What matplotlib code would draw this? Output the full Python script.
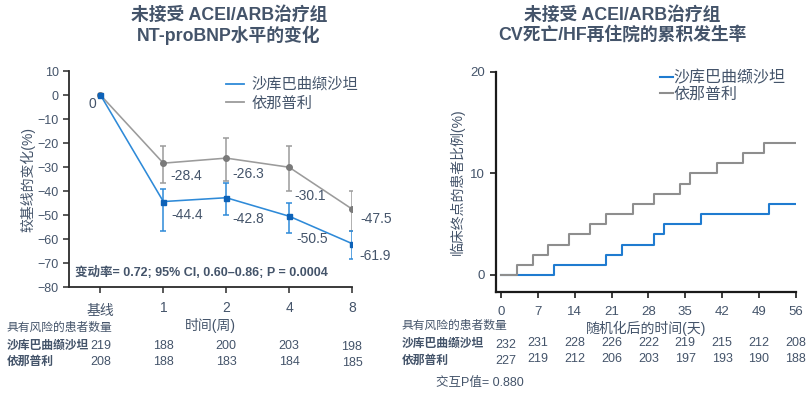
import matplotlib
matplotlib.use("Agg")
import matplotlib.pyplot as plt
import matplotlib.transforms as mtransforms
from matplotlib.lines import Line2D

plt.rcParams['font.family'] = ['Liberation Sans', 'Noto Sans CJK SC', 'DejaVu Sans']
plt.rcParams['axes.unicode_minus'] = True

# ---------------- data: left chart ----------------
weeks = ['基线', '1', '2', '4', '8']
sac_change = [0, -44.4, -42.8, -50.5, -61.9]
sac_lo = [0, -56.6, -50.0, -57.5, -68.3]
sac_hi = [0, -39.3, -36.5, -45.1, -56.8]
enal_change = [0, -28.4, -26.3, -30.1, -47.5]
enal_lo = [0, -36.5, -35.9, -40.0, -56.6]
enal_hi = [0, -21.4, -17.9, -21.4, -40.0]
sac_labels = ['-44.4', '-42.8', '-50.5', '-61.9']
enal_labels = ['-28.4', '-26.3', '-30.1', '-47.5']
left_risk_sac = [219, 188, 200, 203, 198]
left_risk_enal = [208, 188, 183, 184, 185]
stat_text = '变动率= 0.72; 95% CI, 0.60–0.86; P = 0.0004'

# ---------------- data: right chart ----------------
sac_days = [0, 10, 20, 23, 29, 31, 38, 51, 56]
sac_pct = [0, 1, 2, 3, 4, 5, 6, 7, 7]
enal_days = [0, 3, 6, 9, 13, 17, 20, 25, 29, 34, 36, 41, 46, 50, 56]
enal_pct = [0, 1, 2, 3, 4, 5, 6, 7, 8, 9, 10, 11, 12, 13, 13]
day_ticks = [0, 7, 14, 21, 28, 35, 42, 49, 56]
right_risk_sac = [232, 231, 228, 226, 222, 219, 215, 212, 208]
right_risk_enal = [227, 219, 212, 206, 203, 197, 193, 190, 188]
p_text = '交互P值= 0.880'

name_sac = '沙库巴曲缬沙坦'
name_enal = '依那普利'

# ---------------- style ----------------
TXT = '#44546a'
BLUE = '#2e8ad8'
BLUE_M = '#0d62b8'
GRAY = '#9b9b9b'
GRAY_M = '#7a7a7a'
SPINE = '#2b2b2b'

W, H = 811, 397
fig = plt.figure(figsize=(W / 100, H / 100), dpi=100)

def fx(px):
    return px / W

def fy(py):
    return 1 - py / H

# ---------- left axes ----------
ax1 = fig.add_axes([fx(69), fy(287), fx(352) - fx(69), fy(71) - fy(287)])
xs = list(range(len(weeks)))
ax1.errorbar(xs[1:], enal_change[1:],
             yerr=[[c - l for c, l in zip(enal_change[1:], enal_lo[1:])],
                   [h - c for c, h in zip(enal_change[1:], enal_hi[1:])]],
             fmt='none', ecolor=GRAY, elinewidth=1.1, capsize=2.5, capthick=1.1, zorder=2)
ax1.errorbar(xs[1:], sac_change[1:],
             yerr=[[c - l for c, l in zip(sac_change[1:], sac_lo[1:])],
                   [h - c for c, h in zip(sac_change[1:], sac_hi[1:])]],
             fmt='none', ecolor=BLUE, elinewidth=1.1, capsize=2.5, capthick=1.1, zorder=3)
ax1.plot(xs, enal_change, color=GRAY, lw=1.15, marker='o', ms=4,
         mfc=GRAY_M, mec=GRAY_M, zorder=3)
ax1.plot(xs, sac_change, color=BLUE, lw=1.15, marker='s', ms=3.6,
         mfc=BLUE_M, mec=BLUE_M, zorder=4)

ax1.set_xlim(-0.5, 4.0)
ax1.set_ylim(-80, 10)
ax1.set_yticks(range(-80, 11, 10))
ax1.set_xticks(xs)
ax1.set_xticklabels(weeks)
for s in ['top', 'right']:
    ax1.spines[s].set_visible(False)
for s in ['left', 'bottom']:
    ax1.spines[s].set_color(SPINE)
    ax1.spines[s].set_linewidth(1.3)
ax1.tick_params(axis='both', colors=SPINE, labelcolor=TXT, labelsize=9, length=4, width=1.1)
ax1.tick_params(axis='x', labelsize=10, pad=6)
ax1.get_xticklabels()[0].set_y(-0.015)
ax1.set_xlabel('时间(周)', color=TXT, fontsize=10, labelpad=0)
ax1.set_ylabel('较基线的变化(%)', color=TXT, fontsize=10, labelpad=1)

# value labels
ax1.annotate('0', (0, 0), xytext=(-4, -9), textcoords='offset pixels',
             ha='right', va='center', color=TXT, fontsize=10)
enal_off = [(7, -13), (6, -16), (5, -29), (8, -10)]
sac_off = [(8, -13), (6, -21), (7, -23), (7, -12)]
for i in range(4):
    ax1.annotate(enal_labels[i], (xs[i + 1], enal_change[i + 1]), xytext=enal_off[i],
                 textcoords='offset pixels', ha='left', va='center', color=TXT, fontsize=10)
    ax1.annotate(sac_labels[i], (xs[i + 1], sac_change[i + 1]), xytext=sac_off[i],
                 textcoords='offset pixels', ha='left', va='center', color=TXT, fontsize=10)

ax1.text(fx(75), fy(272), stat_text, transform=fig.transFigure, ha='left', va='center',
         color=TXT, fontsize=9.0, fontweight='bold')

h1 = [Line2D([], [], color=BLUE, lw=1.3), Line2D([], [], color=GRAY, lw=1.3)]
leg1 = fig.legend(h1, [name_sac, name_enal], loc='upper left',
                  bbox_to_anchor=(fx(218), fy(70)), frameon=False, fontsize=11,
                  handlelength=1.2, handletextpad=0.5, labelspacing=0.3, borderpad=0)
for t in leg1.get_texts():
    t.set_color(TXT)

# left at-risk table
bt1 = mtransforms.blended_transform_factory(ax1.transData, fig.transFigure)
fig.text(fx(7), fy(328), '具有风险的患者数量', ha='left', va='center', color=TXT, fontsize=8.5)
fig.text(fx(7), fy(346), name_sac, ha='left', va='center', color=TXT, fontsize=8.5, fontweight='bold')
fig.text(fx(7), fy(362), name_enal, ha='left', va='center', color=TXT, fontsize=8.5, fontweight='bold')
for i in range(5):
    dy = 1.5 if i == 4 else 0
    ax1.text(xs[i], fy(346 + dy), str(left_risk_sac[i]), transform=bt1, ha='center',
             va='center', color=TXT, fontsize=9)
    ax1.text(xs[i], fy(362 + dy), str(left_risk_enal[i]), transform=bt1, ha='center',
             va='center', color=TXT, fontsize=9)

# titles
fig.text(fx(229), fy(15), '未接受 ACEI/ARB治疗组', ha='center', va='center',
         color=TXT, fontsize=12.8, fontweight='bold')
fig.text(fx(229), fy(35), 'NT-proBNP水平的变化', ha='center', va='center',
         color=TXT, fontsize=12.8, fontweight='bold')
fig.text(fx(622), fy(15), '未接受 ACEI/ARB治疗组', ha='center', va='center',
         color=TXT, fontsize=12.8, fontweight='bold')
fig.text(fx(622), fy(35), 'CV死亡/HF再住院的累积发生率', ha='center', va='center',
         color=TXT, fontsize=12.8, fontweight='bold')

# ---------- right axes ----------
ax2 = fig.add_axes([fx(495.7), fy(291.7), fx(796) - fx(495.7), fy(72) - fy(291.7)])
ax2.plot(sac_days, sac_pct, drawstyle='steps-post', color='#1f7bd0', lw=1.5, zorder=2)
ax2.plot(enal_days, enal_pct, drawstyle='steps-post', color='#8e8e8e', lw=1.5, zorder=3)
ax2.set_xlim(-1, 56.05)
ax2.set_ylim(-1.65, 20)
ax2.set_yticks([0, 10, 20])
ax2.set_xticks(day_ticks)
for s in ['top', 'right']:
    ax2.spines[s].set_visible(False)
for s in ['left', 'bottom']:
    ax2.spines[s].set_color('#1a1a1a')
    ax2.spines[s].set_linewidth(1.6)
ax2.tick_params(axis='both', colors='#1a1a1a', labelcolor=TXT, labelsize=9.5, length=4, width=1.2)
ax2.tick_params(axis='x', pad=6)
ax2.set_xlabel('随机化后的时间(天)', color=TXT, fontsize=10, labelpad=2)
ax2.set_ylabel('临床终点的患者比例(%)', color=TXT, fontsize=10, labelpad=4)

h2 = [Line2D([], [], color='#1f7bd0', lw=1.5), Line2D([], [], color='#8e8e8e', lw=1.5)]
leg2 = fig.legend(h2, [name_sac, name_enal], loc='upper left',
                  bbox_to_anchor=(fx(652), fy(62)), frameon=False, fontsize=11.5,
                  handlelength=0.8, handletextpad=0.05, labelspacing=0.1, borderpad=0)
for t in leg2.get_texts():
    t.set_color(TXT)

bt2 = mtransforms.blended_transform_factory(ax2.transData, fig.transFigure)
fig.text(fx(402), fy(326), '具有风险的患者数量', ha='left', va='center', color=TXT, fontsize=8.5)
fig.text(fx(402), fy(344), name_sac, ha='left', va='center', color=TXT, fontsize=8.5, fontweight='bold')
fig.text(fx(402), fy(361), name_enal, ha='left', va='center', color=TXT, fontsize=8.5, fontweight='bold')
for i, d in enumerate(day_ticks):
    dy = 1.5 if i == 0 else 0
    ax2.text(d + (1 if i == 0 else 0), fy(343.5 + dy), str(right_risk_sac[i]), transform=bt2,
             ha='center', va='center', color=TXT, fontsize=9)
    ax2.text(d + (1 if i == 0 else 0), fy(359.5 + dy), str(right_risk_enal[i]), transform=bt2,
             ha='center', va='center', color=TXT, fontsize=9)
fig.text(fx(436), fy(383), p_text, ha='left', va='center', color=TXT, fontsize=9)

fig.savefig('out.png', dpi=100)
